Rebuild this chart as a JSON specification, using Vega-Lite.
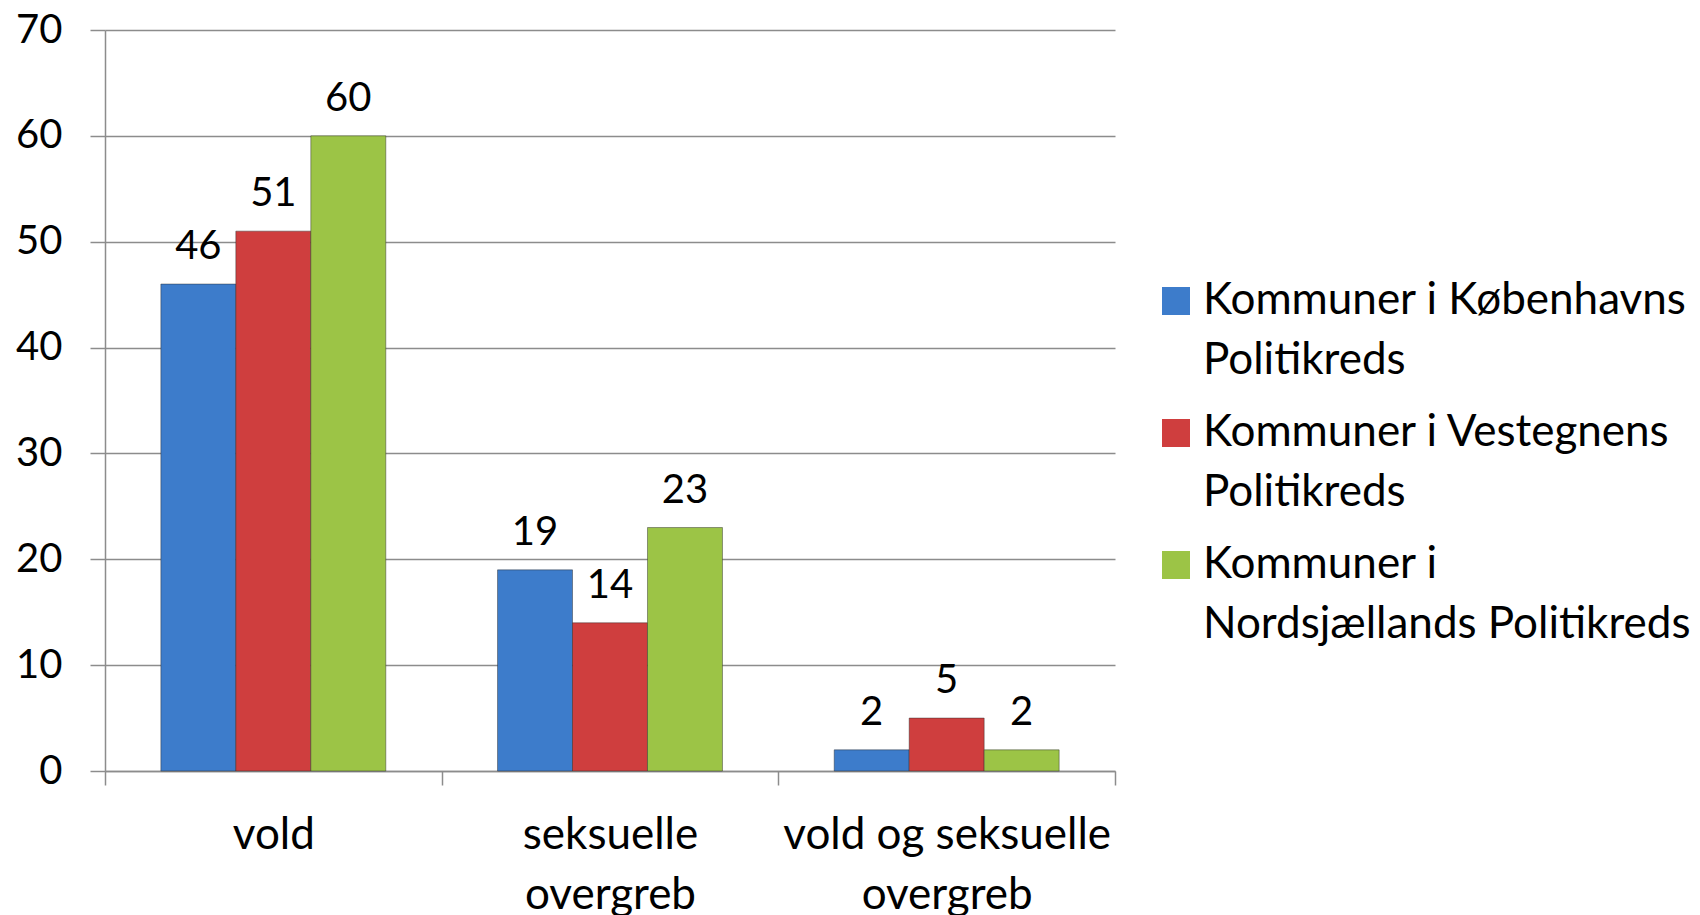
{
  "$schema": "https://vega.github.io/schema/vega-lite/v6.json",
  "width": 1010,
  "height": 741,
  "autosize": {"type": "none"},
  "padding": {"left": 105, "top": 30, "right": 585, "bottom": 144},
  "background": "white",
  "config": {
    "font": "Lato",
    "view": {"stroke": null},
    "style": {"guide-label": {"lineHeight": 60}}
  },
  "data": {
    "values": [
      {"kategori": "vold", "kreds": "Kommuner i Københavns Politikreds", "antal": 46},
      {"kategori": "vold", "kreds": "Kommuner i Vestegnens Politikreds", "antal": 51},
      {"kategori": "vold", "kreds": "Kommuner i Nordsjællands Politikreds", "antal": 60},
      {"kategori": "seksuelle overgreb", "kreds": "Kommuner i Københavns Politikreds", "antal": 19},
      {"kategori": "seksuelle overgreb", "kreds": "Kommuner i Vestegnens Politikreds", "antal": 14},
      {"kategori": "seksuelle overgreb", "kreds": "Kommuner i Nordsjællands Politikreds", "antal": 23},
      {"kategori": "vold og seksuelle overgreb", "kreds": "Kommuner i Københavns Politikreds", "antal": 2},
      {"kategori": "vold og seksuelle overgreb", "kreds": "Kommuner i Vestegnens Politikreds", "antal": 5},
      {"kategori": "vold og seksuelle overgreb", "kreds": "Kommuner i Nordsjællands Politikreds", "antal": 2}
    ]
  },
  "encoding": {
    "x": {
      "field": "kategori", "type": "nominal",
      "sort": ["vold", "seksuelle overgreb", "vold og seksuelle overgreb"],
      "scale": {"paddingInner": 0, "paddingOuter": 0},
      "axis": {
        "title": null, "labelAngle": 0, "labelFontSize": 44, "labelColor": "#000000", "labelLimit": 600,
        "labelExpr": "datum.value == 'vold' ? 'vold' : datum.value == 'seksuelle overgreb' ? ['seksuelle', 'overgreb'] : datum.value == 'vold og seksuelle overgreb' ? ['vold og seksuelle', 'overgreb'] : ''",
        "labelLineHeight": 60, "labelPadding": 28,
        "tickBand": "extent", "tickSize": 14, "tickColor": "#8c8c8c", "domainColor": "#8c8c8c", "tickWidth": 1.5, "domainWidth": 1.5,
        "grid": false
      }
    },
    "xOffset": {
      "field": "kreds", "type": "nominal",
      "sort": ["Kommuner i Københavns Politikreds", "Kommuner i Vestegnens Politikreds", "Kommuner i Nordsjællands Politikreds"],
      "scale": {"paddingInner": 0, "paddingOuter": 0.745}
    },
    "y": {
      "field": "antal", "type": "quantitative",
      "scale": {"domain": [0, 70]},
      "axis": {
        "title": null, "values": [0, 10, 20, 30, 40, 50, 60, 70], "labelFontSize": 40, "labelColor": "#000000",
        "tickSize": 15, "labelPadding": 28, "tickColor": "#8c8c8c", "domainColor": "#8c8c8c", "tickWidth": 1.5, "domainWidth": 1.5,
        "gridColor": "#8c8c8c", "gridWidth": 1.5
      }
    }
  },
  "layer": [
    {
      "mark": {"type": "bar", "stroke": "#2a2a2a", "strokeOpacity": 0.45, "strokeWidth": 1},
      "encoding": {
        "color": {
          "field": "kreds", "type": "nominal",
          "scale": {
            "domain": ["Kommuner i Københavns Politikreds", "Kommuner i Vestegnens Politikreds", "Kommuner i Nordsjællands Politikreds"],
            "range": ["#3d7ccb", "#cf3e3e", "#9cc446"]
          },
          "legend": {
            "title": null, "orient": "none", "legendX": 1049, "legendY": 249,
            "symbolType": "square", "symbolSize": 784, "symbolStrokeWidth": 0, "symbolOpacity": 1,
            "labelFontSize": 44, "labelColor": "#000000", "labelLimit": 600,
            "labelExpr": "datum.value == 'Kommuner i Københavns Politikreds' ? ['Kommuner i Københavns', 'Politikreds'] : datum.value == 'Kommuner i Vestegnens Politikreds' ? ['Kommuner i Vestegnens', 'Politikreds'] : ['Kommuner i', 'Nordsjællands Politikreds']",
            "labelBaseline": "middle", "rowPadding": 28, "labelOffset": 5
          }
        }
      }
    },
    {
      "mark": {"type": "text", "baseline": "bottom", "dy": -17, "fontSize": 40, "color": "#000000"},
      "encoding": {
        "text": {"field": "antal", "type": "quantitative"}
      }
    }
  ]
}
